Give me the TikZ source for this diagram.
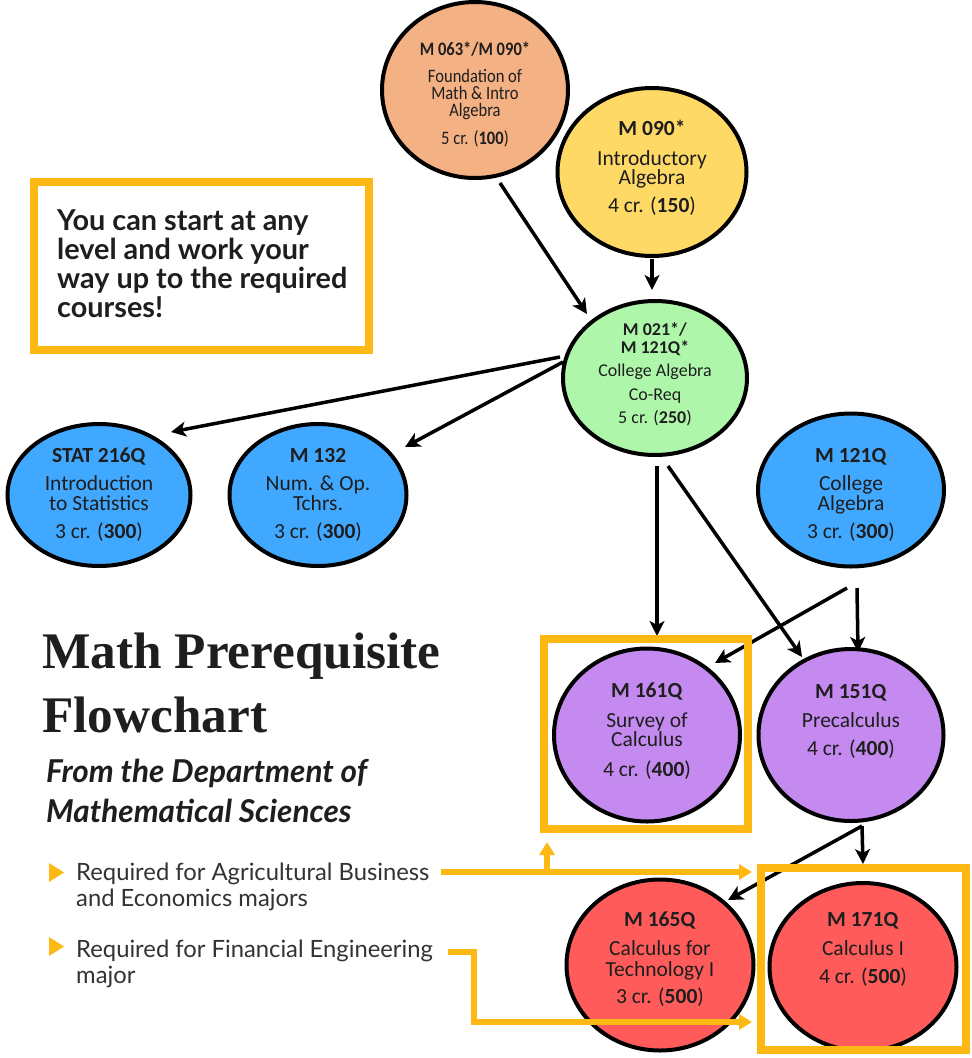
\documentclass[tikz,border=0pt]{standalone}
\usepackage{fontspec}
\usetikzlibrary{shapes.geometric,arrows.meta,calc}

\newfontfamily\circfont{Carlito}
\newfontfamily\condfont{Carlito}[FakeStretch=0.87]
\newfontfamily\latofont{Lato}
\newfontfamily\titlefont{Liberation Serif}

\definecolor{gold}{HTML}{FDB813}
\definecolor{peach}{HTML}{F4B183}
\definecolor{sun}{HTML}{FFD966}
\definecolor{mint}{HTML}{AEF7AA}
\definecolor{sky}{HTML}{40A9FF}
\definecolor{lilac}{HTML}{C58AEF}
\definecolor{coral}{HTML}{FF5B5B}
\definecolor{ink}{HTML}{1E1E1E}
\definecolor{greytext}{HTML}{333333}

% centred multi-line course text, anchored on its first baseline
\newcommand\coursetext[3]{\parbox[t]{180pt}{\centering\fontsize{#1}{#2}\selectfont #3}}

\begin{document}
\begin{tikzpicture}[x=1pt,y=-1pt,
  course/.style={ellipse, draw=black, line width=4pt, inner sep=0pt},
  ctext/.style={anchor=base, inner sep=0pt, text=ink, font=\circfont},
  goldbox/.style={draw=gold, line width=8pt, inner sep=0pt},
  conn/.style={line width=3.5pt, draw=black, -{Stealth[length=15pt,width=15pt,inset=4pt]}},
  goldline/.style={line width=6pt, draw=gold},
  goldarrow/.style={goldline, -{Triangle[length=13pt,width=15pt]}}]

\useasboundingbox (0,0) rectangle (972,1058);
\fill[white] (0,0) rectangle (972,1058);

% ---- course circles ----
\node[course, fill=peach, minimum width=186pt, minimum height=176pt] (m063) at (475,90) {};
\node[course, fill=sun,   minimum width=189pt, minimum height=168pt] (m090) at (652,172) {};
\node[course, fill=mint,  minimum width=184pt, minimum height=154pt] (m021) at (655,378) {};
\node[course, fill=sky,   minimum width=183pt, minimum height=142pt] (stat) at (99,495) {};
\node[course, fill=sky,   minimum width=177pt, minimum height=142pt] (m132) at (318,495) {};
\node[course, fill=sky,   minimum width=186pt, minimum height=153pt] (m121) at (851,490) {};
\node[course, fill=lilac, minimum width=186pt, minimum height=173pt] (m161) at (647,735) {};
\node[course, fill=lilac, minimum width=185pt, minimum height=172pt] (m151) at (851,735) {};
\node[course, fill=coral, minimum width=187pt, minimum height=171pt] (m165) at (660,965) {};
\node[course, fill=coral, minimum width=187pt, minimum height=168pt] (m171) at (863,967) {};

% ---- course texts ----
\node[ctext, font=\condfont] (m063-t) at (475,55) {\coursetext{19}{17}{\textbf{M 063*/M 090*}\\[10pt]
  Foundation of\\ Math \& Intro\\ Algebra\\[10pt] 5 cr. (\textbf{100})}};
\node[ctext] (m090-t) at (652,135) {\coursetext{21.5}{19.5}{\textbf{M 090*}\\[10.5pt]
  Introductory\\ Algebra\\[8.5pt] 4 cr. (\textbf{150})}};
\node[ctext] (m021-t) at (655,335) {\coursetext{18}{18}{\textbf{M 021*/}\\ \textbf{M 121Q*}\\[5pt]
  College Algebra\\[6pt] Co-Req\\[5pt] 5 cr. (\textbf{250})}};
\node[ctext] (stat-t) at (99,462) {\coursetext{21.5}{20}{\textbf{STAT 216Q}\\[8pt]
  Introduction\\ to Statistics\\[8pt] 3 cr. (\textbf{300})}};
\node[ctext] (m132-t) at (318,462) {\coursetext{21.5}{20}{\textbf{M 132}\\[8pt]
  Num. \& Op.\\ Tchrs.\\[8pt] 3 cr. (\textbf{300})}};
\node[ctext] (m121-t) at (851,462) {\coursetext{21.5}{20}{\textbf{M 121Q}\\[8pt]
  College\\ Algebra\\[8pt] 3 cr. (\textbf{300})}};
\node[ctext] (m161-t) at (647,697) {\coursetext{21.5}{19.5}{\textbf{M 161Q}\\[10.5pt]
  Survey of\\ Calculus\\[10.5pt] 4 cr. (\textbf{400})}};
\node[ctext] (m151-t) at (851,698) {\coursetext{21.5}{20}{\textbf{M 151Q}\\[9pt]
  Precalculus\\[8pt] 4 cr. (\textbf{400})}};
\node[ctext] (m165-t) at (660,926) {\coursetext{21.5}{20}{\textbf{M 165Q}\\[9pt]
  Calculus for\\[1pt] Technology I\\[7pt] 3 cr. (\textbf{500})}};
\node[ctext] (m171-t) at (863,926) {\coursetext{21.5}{20}{\textbf{M 171Q}\\[9pt]
  Calculus I\\[8pt] 4 cr. (\textbf{500})}};

% ---- prerequisite arrows ----
\draw[conn] ($(m063)+(25,93)$) -- ($(m021)+(-68,-64)$);
\draw[conn] ($(m090)+(0,87)$) -- ($(m021)+(-3,-88)$);
\draw[conn] ($(m021)+(-95,-21)$) -- ($(stat)+(72,-63)$);
\draw[conn] ($(m021)+(-92,-16)$) -- ($(m132)+(87,-48)$);
\draw[conn] ($(m021)+(2,88)$) -- ($(m161)+(10,-99)$);
\draw[conn] ($(m021)+(13,88)$) -- ($(m151)+(-49,-78)$);
\draw[conn] ($(m121)+(-4,98)$) -- ($(m161)+(68,-72)$);
\draw[conn] ($(m121)+(6,98)$) -- ($(m151)+(7,-83)$);
\draw[conn] ($(m151)+(11,91)$) -- ($(m165)+(68,-65)$);
\draw[conn] ($(m151)+(11,91)$) -- ($(m171)+(0,-103)$);

% ---- highlight frames ----
\node[goldbox, minimum width=335pt, minimum height=168pt] (infobox) at (201,265.5) {};
\node[goldbox, minimum width=204pt, minimum height=190pt] (box161) at (646,734) {};
\node[goldbox, minimum width=205pt, minimum height=182pt] (box171) at (863.5,959) {};

\node[anchor=base west, inner sep=0pt, text=ink] (infotext) at (57,230)
  {\parbox[t]{320pt}{\raggedright\latofont\bfseries\fontsize{28.8}{29}\selectfont
   You can start at any\\ level and work your\\ way up to the required\\ courses!}};

% ---- title ----
\node[anchor=base west, inner sep=0pt, text=ink] (title) at (42,668)
  {\parbox[t]{430pt}{\raggedright\titlefont\bfseries\fontsize{51.3}{64}\selectfont
   Math Prerequisite\\ Flowchart}};
\node[anchor=base west, inner sep=0pt, text=ink] (subtitle) at (46,782)
  {\parbox[t]{400pt}{\raggedright\latofont\bfseries\itshape\fontsize{31.5}{40}\selectfont
   From the Department of\\ Mathematical Sciences}};

% ---- legend ----
\fill[gold] (49,863) -- (49,882) -- (64,872.5) -- cycle;
\fill[gold] (49,937) -- (49,956) -- (64,946.5) -- cycle;
\node[anchor=base west, inner sep=0pt, text=greytext] (agritext) at (76,880)
  {\parbox[t]{380pt}{\raggedright\latofont\fontsize{23.8}{26}\selectfont
   Required for Agricultural Business\\ and Economics majors}};
\node[anchor=base west, inner sep=0pt, text=greytext] (fintext) at (76,957)
  {\parbox[t]{380pt}{\raggedright\latofont\fontsize{23.8}{26}\selectfont
   Required for Financial Engineering\\ major}};

% ---- legend connectors ----
\coordinate (agri) at (441,872);
\coordinate (agrisplit) at (547,872);
\draw[goldarrow, shorten >=5pt] (agri) -- (agri -| box171.west);
\draw[goldarrow, shorten >=9pt] (agrisplit) -- (agrisplit |- box161.south);
\coordinate (fin) at (448,952);
\coordinate (finturn) at (474,1022);
\draw[goldarrow, shorten >=5pt] (fin) -- (fin -| finturn) -- (finturn) -- (finturn -| box171.west);

\end{tikzpicture}
\end{document}
